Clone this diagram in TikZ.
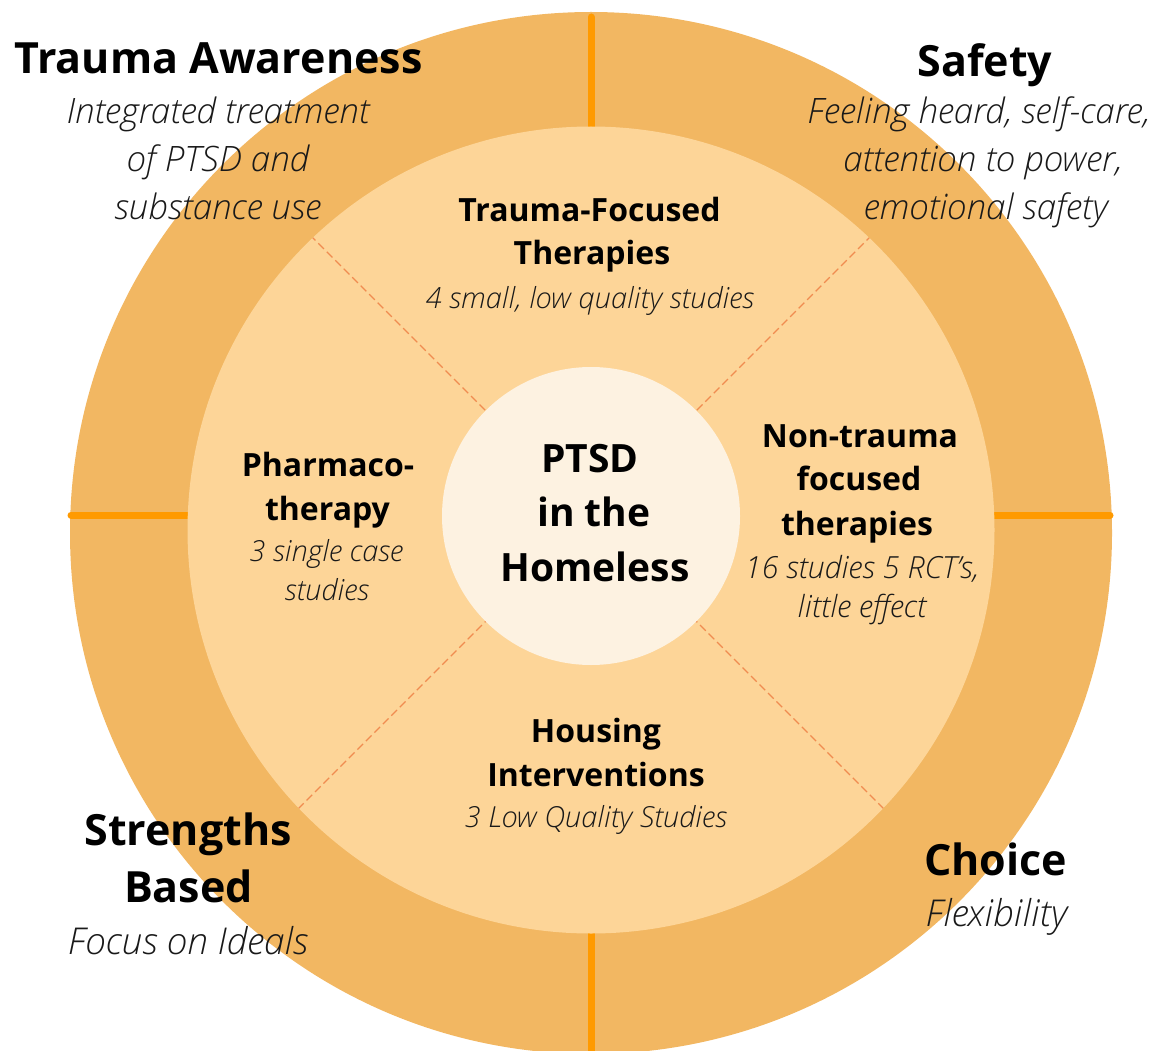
\documentclass[tikz,border=0pt]{standalone}
\usepackage{fontspec}
\setmainfont{Open Sans}[BoldFont={Open Sans Bold}, ItalicFont={Open Sans Light Italic}]
\definecolor{outerc}{RGB}{242,183,98}
\definecolor{midc}{RGB}{253,213,152}
\definecolor{innerc}{RGB}{253,242,225}
\definecolor{linec}{RGB}{255,154,0}
\definecolor{dashc}{RGB}{240,140,80}
\definecolor{desctext}{RGB}{25,25,25}
\tikzset{
  ring/.style={circle, inner sep=0pt, draw=none},
  thickline/.style={draw=linec, line width=7pt, line cap=round},
  dashline/.style={draw=dashc, line width=1.3pt, dash pattern=on 8pt off 4pt},
  bigtitle/.style={font=\bfseries\fontsize{43}{43}\selectfont, anchor=base, inner sep=0pt},
  bigdesc/.style={font=\itshape\fontsize{35}{35}\selectfont, text=desctext, anchor=base, inner sep=0pt},
  lowdesc/.style={font=\itshape\fontsize{37}{37}\selectfont, text=desctext, anchor=base, inner sep=0pt},
  midtitle/.style={font=\bfseries\fontsize{32}{32}\selectfont, anchor=base, inner sep=0pt},
  middesc/.style={font=\itshape\fontsize{29}{29}\selectfont, text=desctext, anchor=base, inner sep=0pt},
  middescb/.style={font=\itshape\fontsize{30.5}{30.5}\selectfont, text=desctext, anchor=base, inner sep=0pt},
  coretext/.style={font=\bfseries\fontsize{39}{39}\selectfont, anchor=base, inner sep=0pt}
}
\begin{document}
\begin{tikzpicture}[x=1pt,y=-1pt]
\useasboundingbox (0,0) rectangle (1154,1051);
\clip (0,0) rectangle (1154,1051);
% outer ring
\node[ring, fill=outerc, minimum size=1042pt] (outer) at (591,533) {};
% thick dividers
\draw[thickline] (591,17) -- (591,140);
\draw[thickline] (591,920) -- (591,1060);
\draw[thickline] (71,515) -- (200,515);
\draw[thickline] (980,515) -- (1110,515);
% middle disc
\node[ring, fill=midc, minimum size=807pt] (middle) at (591,530) {};
% dashed diagonals
\coordinate (c) at (591,516);
\begin{scope}
  \clip (591,530) circle[radius=403.5pt];
  \draw[dashline] (191,116) -- (c) -- (991,916);
  \draw[dashline] (991,116) -- (c) -- (191,916);
\end{scope}
% core
\node[ring, fill=innerc, minimum size=298pt] (core) at (c) {};
\node[coretext] (core1) at (590,472) {PTSD};
\node[coretext] (core2) at (594,526) {in the};
\node[coretext] (core3) at (595,581) {Homeless};
% trauma awareness
\node[bigtitle] (ta) at (218.5,74) {Trauma Awareness};
\node[bigdesc] (ta1) at (218,124) {Integrated treatment};
\node[bigdesc] (ta2) at (218,172) {of PTSD and};
\node[bigdesc] (ta3) at (218,220) {substance use};
% safety
\node[bigtitle] (sf) at (985,77) {Safety};
\node[bigdesc] (sf1) at (979,124) {Feeling heard, self-care,};
\node[bigdesc] (sf2) at (983,172) {attention to power,};
\node[bigdesc] (sf3) at (986,220) {emotional safety};
% strengths
\node[bigtitle] (sb1) at (188,845) {Strengths};
\node[bigtitle] (sb2) at (188.5,902) {Based};
\node[lowdesc] (sb3) at (188,954) {Focus on Ideals};
% choice
\node[bigtitle] (ch) at (995.5,875) {Choice};
\node[lowdesc] (ch1) at (996.5,926) {Flexibility};
% trauma-focused
\node[midtitle] (tf1) at (589.5,222) {Trauma-Focused};
\node[midtitle] (tf2) at (592,265) {Therapies};
\node[middesc] (tf3) at (590,308) {4 small, low quality studies};
% pharmaco
\node[midtitle] (ph1) at (328,476) {Pharmaco-};
\node[midtitle] (ph2) at (327.5,520) {therapy};
\node[middesc] (ph3) at (326.5,561) {3 single case};
\node[middesc] (ph4) at (327,600) {studies};
% non-trauma
\node[midtitle] (nt1) at (860,447) {Non-trauma};
\node[midtitle] (nt2) at (859,490) {focused};
\node[midtitle] (nt3) at (857,535) {therapies};
\node[middescb] (nt4) at (862,578) {16 studies 5 RCT’s,};
\node[middescb] (nt5) at (862,617) {little effect};
% housing
\node[midtitle] (hi1) at (596,742) {Housing};
\node[midtitle] (hi2) at (596,786) {Interventions};
\node[middesc] (hi3) at (596,827) {3 Low Quality Studies};
\end{tikzpicture}
\end{document}
